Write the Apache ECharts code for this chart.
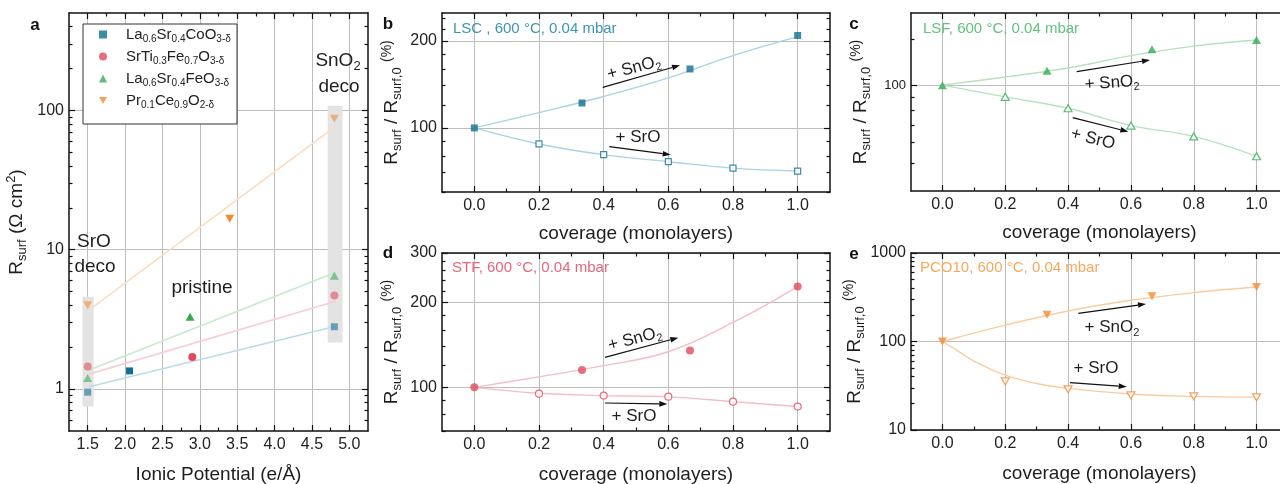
<!DOCTYPE html>
<html><head><meta charset="utf-8">
<script src="https://cdn.jsdelivr.net/npm/echarts@6/dist/echarts.min.js"></script>
<style>html,body{margin:0;padding:0;background:#fff}#c{width:1280px;height:484px}</style>
</head><body><div id="c"></div>
<script>
// ================= DATA =================
// ---- panel a: R_surf vs ionic potential ----
const ionicLSC = [1.5, 2.06, 4.8];
const rsurfLSC = [0.95, 1.35, 2.8];
const ionicSTF = [1.5, 2.9, 4.8];
const rsurfSTF = [1.45, 1.7, 4.7];
const ionicLSF = [1.5, 2.87, 4.8];
const rsurfLSF = [1.2, 3.3, 6.5];
const ionicPCO = [1.5, 3.4, 4.8];
const rsurfPCO = [4.0, 16.7, 87];
const stateA = ['deco', 'pristine', 'deco'];
const trendIonic = [1.52, 4.82];
const trendLSC = [1.04, 2.82];
const trendSTF = [1.28, 4.27];
const trendLSF = [1.37, 6.9];
const trendPCO = [3.7, 77];
const bandSrO = [[1.43, 0.75], [1.58, 4.6]];
const bandSnO2 = [[4.71, 2.16], [4.91, 108]];
const ionicTicks = [1.5, 2.0, 2.5, 3.0, 3.5, 4.0, 4.5, 5.0];
const ionicMinor = [1.75, 2.25, 2.75, 3.25, 3.75, 4.25, 4.75];
const rsurfTicks = [1, 10, 100];
const rsurfMinor = [0.6, 0.7, 0.8, 0.9, 2, 3, 4, 5, 6, 7, 8, 9, 20, 30, 40, 50, 60, 70, 80, 90, 200, 300, 400];

// ---- panels b-e: normalised R_surf vs coverage ----
const covSnO2 = [0, 0.333, 0.667, 1.0];
const covSrO = [0.2, 0.4, 0.6, 0.8, 1.0];
const covFit = [0, 0.2, 0.4, 0.6, 0.8, 1.0];
const covFitE = [0, 0.05, 0.1, 0.2, 0.3, 0.4, 0.6, 0.8, 1.0];
const covTicks = [0, 0.2, 0.4, 0.6, 0.8, 1.0];
const covMinor = [0.1, 0.3, 0.5, 0.7, 0.9];

const lscSnO2 = [100, 122, 160, 209];
const lscSrO = [88, 80.8, 76.4, 72.6, 70.9];
const lscSnO2Fit = [100, 113, 128.5, 149, 178, 207];
const lscSrOFit = [100, 88, 80.8, 76.4, 72.6, 70.9];

const lsfSnO2 = [100, 113.6, 137.5, 149.5];
const lsfSrO = [90.1, 81.4, 69.8, 63.4, 53.1];
const lsfSnO2Fit = [100, 107.5, 116.5, 130, 141.5, 149.5];
const lsfSrOFit = [100, 90.1, 81.4, 69.8, 63.4, 53.1];

const stfSnO2 = [100, 115.2, 135.3, 228];
const stfSrO = [95, 93.5, 92.7, 89, 85.5];
const stfSnO2Fit = [100, 109, 119.4, 133.8, 170, 228];
const stfSrOFit = [100, 95.3, 93.5, 92.5, 89, 85.5];

const pcoSnO2 = [100, 200, 324, 413];
const pcoSrO = [35.4, 28.8, 24.6, 24, 23.4];
const pcoSnO2Fit = [100, 153, 221, 292, 357, 413];
const pcoSrOFit = [100, 78, 60, 41.7, 33.5, 29.5, 25.5, 24, 23.5];

const ticksB = [100, 200], minorB = [60, 70, 80, 90, 120, 140, 160, 180, 220, 240];
const ticksC = [100], minorC = [50, 60, 70, 80, 90, 150];
const ticksD = [100, 200, 300], minorD = [70, 80, 90, 120, 140, 160, 180, 220, 240, 260, 280];
const ticksE = [10, 100, 1000], minorE = [20, 30, 40, 50, 60, 70, 80, 90, 200, 300, 400, 500, 600, 700, 800, 900];

// ================= STYLE / LAYOUT =================
const FONT = '"Liberation Sans", Arial, sans-serif';
const AX = '#111', GRIDC = '#bdbdbd', TXT = '#1e1e1e';
const colLSC = '#126f8f', colSTF = '#e14b5c', colLSF = '#33ad50', colPCO = '#f28c33';
const fitLSC = '#a9d3e3', fitSTF = '#f7bcc5', fitLSF = '#b6e2bd', fitPCO = '#fdcb9d';
const trLSC = '#bcdbe9', trSTF = '#f8cdd3', trLSF = '#c9e9cd', trPCO = '#fddcbe';
const txLSC = '#3d95b8', txSTF = '#e8667a', txLSF = '#62c27e', txPCO = '#f6a85e';
const DOWN = 'path://M0,0L10,0L5,8.66Z';

const grids = [
  {left: 69, top: 13, width: 299, height: 418},
  {left: 442, top: 13, width: 388, height: 179},
  {left: 911, top: 13, width: 377, height: 178},
  {left: 442, top: 253, width: 388, height: 178},
  {left: 911, top: 253, width: 377, height: 177}
];

function rich(fs, color) {
  const sf = Math.round(fs * 0.66);
  return {
    n: {fontSize: fs, lineHeight: fs + 5, fontFamily: FONT, color: color},
    s: {fontSize: sf, lineHeight: sf, verticalAlign: 'bottom', fontFamily: FONT, color: color},
    p: {fontSize: sf, lineHeight: sf, verticalAlign: 'top', fontFamily: FONT, color: color},
    q: {fontSize: sf + 1, lineHeight: sf + 3, verticalAlign: 'top', fontFamily: FONT, color: color}
  };
}

function axisSet(dim, g, type, min, max, major, minor, o) {
  const isX = dim === 'x';
  const base = {gridIndex: g, type: type, min: min, max: max};
  if (type === 'log') base.logBase = 10;
  const lab = {show: true, customValues: major, fontSize: o.fs || 16, fontFamily: FONT, color: '#222', margin: isX ? 6 : 5};
  lab.formatter = o.fmt || (v => String(v));
  const main = Object.assign({}, base, {
    position: isX ? 'bottom' : 'left',
    axisLine: {show: true, onZero: false, lineStyle: {color: AX, width: 1.5}},
    axisTick: {show: true, inside: true, length: 6, customValues: major, lineStyle: {color: AX, width: 1.2}},
    axisLabel: lab,
    splitLine: {show: true, lineStyle: {color: GRIDC, width: 1}},
    name: o.name, nameLocation: 'middle', nameGap: o.gap,
    nameTextStyle: {fontSize: 19, fontFamily: FONT, color: TXT, rich: rich(19, TXT)}
  });
  const mk = (pos, showLine, ticks, len) => Object.assign({}, base, {
    position: pos,
    axisLine: {show: showLine, onZero: false, lineStyle: {color: AX, width: 1.5}},
    axisTick: {show: true, inside: true, length: len, customValues: ticks, lineStyle: {color: AX, width: 1.2}},
    axisLabel: {show: false},
    splitLine: {show: false}
  });
  return [
    main,
    mk(isX ? 'bottom' : 'left', false, minor, 3.5),
    mk(isX ? 'top' : 'right', true, major, 6),
    mk(isX ? 'top' : 'right', false, minor, 3.5)
  ];
}

const fmt1 = v => v.toFixed(1);
const yName = '{n|R}{s|surf}{n| / R}{s|surf,0}{n| }{q|(%)}';
const xAxes = [].concat(
  axisSet('x', 0, 'value', 1.25, 5.25, ionicTicks, ionicMinor, {fmt: fmt1, name: 'Ionic Potential (e/Å)', gap: 34}),
  axisSet('x', 1, 'value', -0.1, 1.1, covTicks, covMinor, {fmt: fmt1, name: 'coverage (monolayers)', gap: 32}),
  axisSet('x', 2, 'value', -0.1, 1.1, covTicks, covMinor, {fmt: fmt1, name: 'coverage (monolayers)', gap: 32}),
  axisSet('x', 3, 'value', -0.1, 1.1, covTicks, covMinor, {fmt: fmt1, name: 'coverage (monolayers)', gap: 34}),
  axisSet('x', 4, 'value', -0.1, 1.1, covTicks, covMinor, {fmt: fmt1, name: 'coverage (monolayers)', gap: 34})
);
const yAxes = [].concat(
  axisSet('y', 0, 'log', 0.5, 500, rsurfTicks, rsurfMinor, {name: '{n|R}{s|surf}{n| (Ω cm}{p|2}{n|)}', gap: 40}),
  axisSet('y', 1, 'log', 60, 250, ticksB, minorB, {name: yName, gap: 38}),
  axisSet('y', 2, 'log', 39, 190, ticksC, minorC, {name: yName, gap: 38, fs: 13}),
  axisSet('y', 3, 'log', 70, 300, ticksD, minorD, {name: yName, gap: 38}),
  axisSet('y', 4, 'log', 10, 1000, ticksE, minorE, {name: yName, gap: 38})
);

// ================= SERIES =================
const series = [];
function pairs(xs, ys) { return xs.map((x, i) => [x, ys[i]]); }

// panel a
function aTrend(ys, color, extra) {
  return Object.assign({type: 'line', xAxisIndex: 0, yAxisIndex: 0, data: pairs(trendIonic, ys), showSymbol: false, symbol: 'none',
    silent: true, lineStyle: {color: color, width: 1.6}, z: 3}, extra || {});
}
series.push(aTrend(trendLSC, trLSC, {
  markArea: {silent: true, itemStyle: {color: '#e3e3e3', opacity: 1},
    data: [[{coord: bandSrO[0]}, {coord: bandSrO[1]}], [{coord: bandSnO2[0]}, {coord: bandSnO2[1]}]]}
}));
series.push(aTrend(trendSTF, trSTF), aTrend(trendLSF, trLSF), aTrend(trendPCO, trPCO));
function aScatter(name, xs, ys, color, symbol, size) {
  return {name: name, type: 'scatter', xAxisIndex: 0, yAxisIndex: 0, symbol: symbol, symbolSize: size,
    itemStyle: {color: color}, z: 5,
    data: xs.map((x, i) => ({value: [x, ys[i]], itemStyle: {opacity: stateA[i] === 'pristine' ? 1 : 0.58}}))};
}
series.push(aScatter('LSC', ionicLSC, rsurfLSC, colLSC, 'rect', 7));
series.push(aScatter('STF', ionicSTF, rsurfSTF, colSTF, 'circle', 8));
series.push(aScatter('LSF', ionicLSF, rsurfLSF, colLSF, 'triangle', [9, 8]));
series.push(aScatter('PCO', ionicPCO, rsurfPCO, colPCO, DOWN, [9, 8]));

// panels b-e
function covPanel(g, snFitX, snFit, srFitX, srFit, sn, sr, col, fitCol, symbol, size, openSize) {
  const ax = {xAxisIndex: 4 * g, yAxisIndex: 4 * g};
  series.push(Object.assign({type: 'line', data: pairs(snFitX, snFit), smooth: 0.4, showSymbol: false, symbol: 'none', silent: true,
    lineStyle: {color: fitCol, width: 1.4}, z: 3}, ax));
  series.push(Object.assign({type: 'line', data: pairs(srFitX, srFit), smooth: 0.4, showSymbol: false, symbol: 'none', silent: true,
    lineStyle: {color: fitCol, width: 1.4}, z: 3}, ax));
  series.push(Object.assign({type: 'scatter', data: pairs(covSnO2, sn), symbol: symbol, symbolSize: size,
    itemStyle: {color: col}, z: 5}, ax));
  series.push(Object.assign({type: 'scatter', data: pairs(covSrO, sr), symbol: symbol, symbolSize: openSize,
    itemStyle: {color: '#fff', borderColor: col, borderWidth: 1.2}, z: 5}, ax));
}
covPanel(1, covFit, lscSnO2Fit, covFit, lscSrOFit, lscSnO2, lscSrO, colLSC, fitLSC, 'rect', 7, 6);
covPanel(2, covFit, lsfSnO2Fit, covFit, lsfSrOFit, lsfSnO2, lsfSrO, colLSF, fitLSF, 'triangle', [9, 8], [8, 7]);
covPanel(3, covFit, stfSnO2Fit, covFit, stfSrOFit, stfSnO2, stfSrO, colSTF, fitSTF, 'circle', 8, 7);
covPanel(4, covFit, pcoSnO2Fit, covFitE, pcoSrOFit, pcoSnO2, pcoSrO, colPCO, fitPCO, DOWN, [9, 8], [8, 7]);

// ================= ANNOTATIONS =================
const g = [];
function txt(x, y, text, opt) {
  opt = opt || {};
  const fs = opt.fs || 19, col = opt.color || TXT;
  g.push({type: 'text', x: x, y: y, rotation: (opt.rot || 0) * Math.PI / 180, z: 100,
    style: {text: text, rich: rich(fs, col), fontSize: fs, fontFamily: FONT, fill: col,
      fontWeight: opt.bold ? 'bold' : 'normal', align: opt.align || 'center', verticalAlign: 'middle'}});
}
function arrow(x1, y1, x2, y2) {
  const a = Math.atan2(y2 - y1, x2 - x1), L = 8, W = 2.8;
  const bx = x2 - L * Math.cos(a), by = y2 - L * Math.sin(a);
  const px = -Math.sin(a) * W, py = Math.cos(a) * W;
  g.push({type: 'line', z: 100, shape: {x1: x1, y1: y1, x2: bx, y2: by}, style: {stroke: '#111', lineWidth: 1.2}});
  g.push({type: 'polygon', z: 100, shape: {points: [[x2, y2], [bx + px, by + py], [bx - px, by - py]]}, style: {fill: '#111'}});
}
function letter(x, y, t) {
  g.push({type: 'text', x: x, y: y, z: 100, style: {text: t, fontSize: 17, fontWeight: 'bold', fontFamily: FONT, fill: '#111', align: 'center', verticalAlign: 'middle'}});
}
letter(35, 25, 'a'); letter(388, 24, 'b'); letter(854, 24, 'c'); letter(388, 253, 'd'); letter(854, 254, 'e');
// legend box
g.push({type: 'rect', z: 90, shape: {x: 83, y: 24, width: 154, height: 100}, style: {fill: '#fff', stroke: '#333', lineWidth: 1}});
// panel a labels
txt(94, 242, '{n|SrO}');
txt(95, 267, '{n|deco}');
txt(338, 61, '{n|SnO}{s|2}');
txt(339, 87, '{n|deco}');
txt(202, 288, '{n|pristine}');
// condition labels
txt(453, 29, '{n|LSC , 600 °C, 0.04 mbar}', {fs: 15, color: txLSC, align: 'left'});
txt(923, 29, '{n|LSF, 600 °C, 0.04 mbar}', {fs: 15, color: txLSF, align: 'left'});
txt(452, 268, '{n|STF, 600 °C, 0.04 mbar}', {fs: 15, color: txSTF, align: 'left'});
txt(920, 268, '{n|PCO10, 600 °C, 0.04 mbar}', {fs: 15, color: txPCO, align: 'left'});
// arrows + labels
arrow(602.7, 87.3, 680, 65.3); txt(634, 68, '{n|+ SnO}{s|2}', {fs: 17, rot: 15});
arrow(609.3, 146.7, 670.7, 154.7); txt(638, 137, '{n|+ SrO}', {fs: 17});
arrow(1076.7, 71.7, 1150, 60); txt(1112, 83, '{n|+ SnO}{s|2}', {fs: 17, rot: 4});
arrow(1072.7, 117.7, 1128.3, 131.7); txt(1093, 139, '{n|+ SrO}', {fs: 17, rot: -14});
arrow(605, 357.3, 678.3, 337.7); txt(635, 339, '{n|+ SnO}{s|2}', {fs: 17, rot: 15});
arrow(605, 403, 667.3, 404); txt(634, 416, '{n|+ SrO}', {fs: 17});
arrow(1078.3, 313.3, 1146, 304); txt(1112, 327, '{n|+ SnO}{s|2}', {fs: 17});
arrow(1070, 382.7, 1126.7, 386.7); txt(1096, 368, '{n|+ SrO}', {fs: 17});

const legendNames = {
  LSC: '{g|}{n|La}{s|0.6}{n|Sr}{s|0.4}{n|CoO}{s|3-δ}',
  STF: '{g|}{n|SrTi}{s|0.3}{n|Fe}{s|0.7}{n|O}{s|3-δ}',
  LSF: '{g|}{n|La}{s|0.6}{n|Sr}{s|0.4}{n|FeO}{s|3-δ}',
  PCO: '{g|}{n|Pr}{s|0.1}{n|Ce}{s|0.9}{n|O}{s|2-δ}'
};

const option = {
  animation: false,
  backgroundColor: '#fff',
  grid: grids.map(r => Object.assign({containLabel: false, outerBoundsMode: 'none'}, r)),
  xAxis: xAxes,
  yAxis: yAxes,
  legend: {
    data: ['LSC', 'STF', 'LSF', 'PCO'], orient: 'vertical', left: 99, top: 27, padding: 0,
    itemWidth: 8, itemHeight: 8, itemGap: 4.5, selectedMode: false, z: 95,
    formatter: n => legendNames[n],
    textStyle: {fontSize: 15, fontFamily: FONT, color: '#222', rich: {
      g: {width: 14, lineHeight: 20},
      n: {fontSize: 15, lineHeight: 20, fontFamily: FONT, color: '#222'},
      s: {fontSize: 10, lineHeight: 10, verticalAlign: 'bottom', fontFamily: FONT, color: '#222'}}}
  },
  graphic: g,
  series: series
};
const chart = echarts.init(document.getElementById('c'), null, {renderer: 'canvas', width: 1280, height: 484});
chart.setOption(option);
</script></body></html>
